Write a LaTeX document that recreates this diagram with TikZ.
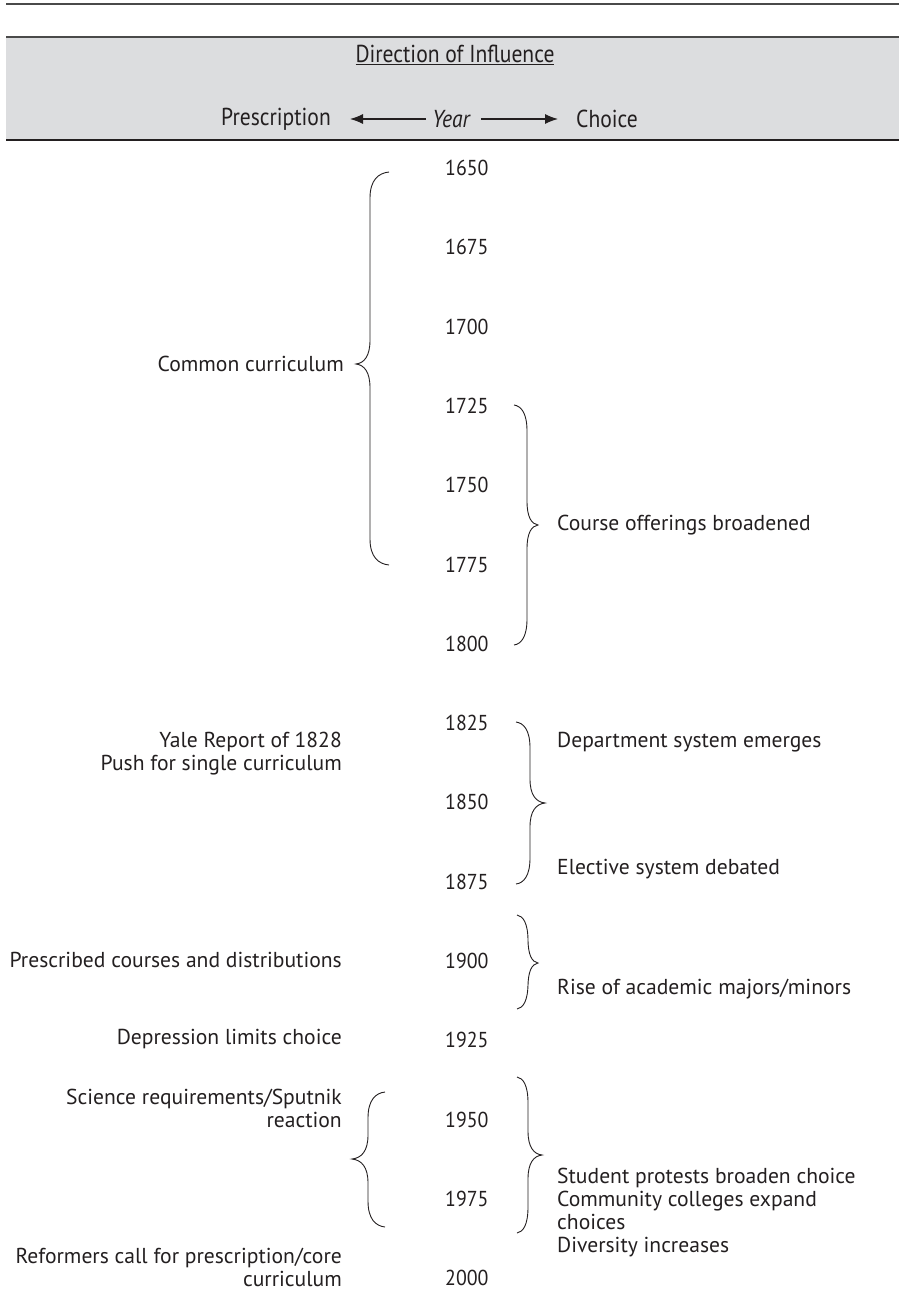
\documentclass[tikz,border=0pt]{standalone}
\usepackage{fontspec}
\setmainfont{PT Sans}
\newfontfamily\headfont[FakeStretch=0.88]{PT Sans}
\newfontfamily\yearfont[FakeStretch=0.92]{PT Sans}
\usetikzlibrary{arrows.meta}
\definecolor{ink}{HTML}{231F20}
\definecolor{headgray}{HTML}{DCDDDF}
\definecolor{rulegray}{HTML}{4A4A4A}

% curly brace: end x, top y, stem x, tip x, tip y, bottom y
\newcommand\bracepath[6]{%
  \draw[bracestroke] (#1,#2)
    .. controls ({#3+0.45*(#1-#3)},{#2+1}) and (#3,{#2+8}) .. (#3,{#2+26})
    -- (#3,{#5-24})
    .. controls (#3,{#5-8}) and ({#3+0.4*(#4-#3)},{#5-1}) .. (#4,#5)
    .. controls ({#3+0.4*(#4-#3)},{#5+1}) and (#3,{#5+8}) .. (#3,{#5+24})
    -- (#3,{#6-26})
    .. controls (#3,{#6-8}) and ({#3+0.45*(#1-#3)},{#6-1}) .. (#1,#6);}

\begin{document}
\begin{tikzpicture}[x=1pt,y=-1pt,
  txt/.style={inner sep=0pt, text=ink, font=\fontsize{21.6}{23}\selectfont},
  head/.style={inner sep=0pt, text=ink, font=\headfont\fontsize{24.5}{26}\selectfont},
  leftlbl/.style={txt, anchor=east, align=right},
  rightlbl/.style={txt, anchor=west, align=left},
  yearlbl/.style={txt, anchor=west, font=\yearfont\fontsize{21.6}{23}\selectfont},
  hdarrow/.style={draw=ink, line width=1.1pt, -{Latex[length=13pt,width=10pt]}},
  bracestroke/.style={draw=ink, line width=0.9pt},
  rulestroke/.style={draw=rulegray, line width=1.8pt}]
\useasboundingbox (0,0) rectangle (899,1301);

% header band
\fill[headgray] (6,37) rectangle (899,140);
\draw[rulestroke] (6,4) -- (899,4);
\draw[rulestroke] (6,37) -- (899,37);
\draw[rulestroke, draw=ink] (6,140) -- (899,140);

\node[head] (title) at (455,55) {\underline{Direction of Influence}};
\node[head, anchor=east] (presc) at (331,119) {Prescription};
\node[head, anchor=center] (year) at (451,119) {\itshape Year};
\node[head, anchor=west] (choice) at (576,119) {Choice};
\draw[hdarrow, shorten <=6pt, shorten >=19pt] (year.west) -- (presc.east);
\draw[hdarrow, shorten <=11pt, shorten >=18pt] (year.east) -- (choice.west);

% year column
\foreach \yr [count=\i from 0] in {1650,1675,1700,1725,1750,1775,1800,1825,1850,1875,1900,1925,1950,1975,2000}
  \node[yearlbl] (y\yr) at (445,{168+79.29*\i}) {\yr};

% prescription side
\node[leftlbl] (common) at (344,364) {Common curriculum};
\node[leftlbl] (yale) at (342,753.5) {Yale Report of 1828\\Push for single curriculum};
\node[leftlbl] (prescribed) at (342,960) {Prescribed courses and distributions};
\node[leftlbl] (depression) at (342,1039) {Depression limits choice};
\node[leftlbl] (science) at (342,1108.5) {Science requirements/Sputnik\\reaction};
\node[leftlbl] (reform) at (342,1267.5) {Reformers call for prescription/core\\curriculum};

% choice side
\node[rightlbl] (offerings) at (557,525) {Course offerings broadened};
\node[rightlbl] (dept) at (557,742) {Department system emerges};
\node[rightlbl] (elective) at (557,869) {Elective system debated};
\node[rightlbl] (majors) at (557,989) {Rise of academic majors/minors};
\node[rightlbl] (protests) at (557,1212.5) {Student protests broaden choice\\Community colleges expand\\choices\\Diversity increases};

% braces
\bracepath{389}{172}{370}{356}{364}{565}
\bracepath{514}{405}{527}{538}{525}{645}
\bracepath{516}{722}{530}{545}{803}{884}
\bracepath{517}{915}{528}{538}{963}{1009}
\bracepath{517}{1077}{528}{542}{1155}{1233}
\bracepath{385}{1092}{368}{352}{1159}{1227}
\end{tikzpicture}
\end{document}
